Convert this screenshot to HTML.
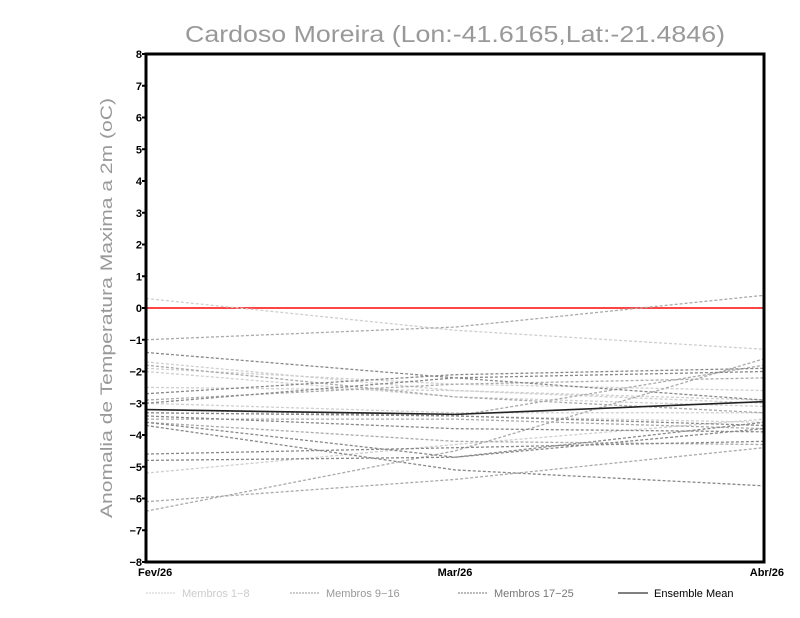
<!DOCTYPE html>
<html><head><meta charset="utf-8"><style>
body{margin:0;background:#fff;}
svg{display:block;font-family:"Liberation Sans",sans-serif;}
</style></head><body>
<svg id="chart" width="800" height="618" viewBox="0 0 800 618">
<text x="455" y="42" text-anchor="middle" font-size="23" fill="#999" textLength="540" lengthAdjust="spacingAndGlyphs">Cardoso Moreira (Lon:-41.6165,Lat:-21.4846)</text>
<text transform="translate(112,308) rotate(-90)" text-anchor="middle" font-size="17" fill="#999" textLength="420" lengthAdjust="spacingAndGlyphs">Anomalia de Temperatura Maxima a 2m (oC)</text>
<g id="marks"></g>
<g id="axes"></g>
</svg>
<script>
const categories = ["Fev/26","Mar/26","Abr/26"];
const yTicks = [-8,-7,-6,-5,-4,-3,-2,-1,0,1,2,3,4,5,6,7,8];
const group1 = [[0.3,-0.7,-1.3],[-1.9,-2.4,-2.6],[-2.5,-2.6,-2.9],[-5.2,-4.3,-3.5],[-1.7,-2.6,-3.0],[-2.0,-2.8,-3.1],[-3.3,-3.4,-3.6],[-3.0,-3.3,-3.3]];
const group2 = [[-1.0,-0.6,0.4],[-1.8,-2.8,-3.3],[-3.2,-3.4,-1.8],[-6.4,-4.5,-1.6],[-3.6,-4.2,-4.3],[-2.9,-2.4,-2.2],[-3.5,-3.5,-3.8],[-6.1,-5.4,-4.4]];
const group3 = [[-1.4,-2.2,-2.9],[-2.7,-2.1,-1.9],[-3.0,-2.2,-2.0],[-3.6,-4.7,-3.6],[-4.6,-4.4,-4.2],[-4.8,-4.7,-3.8],[-3.7,-5.1,-5.6],[-3.4,-3.8,-3.9],[-3.3,-3.4,-3.7]];
const ensembleMean = [-3.2,-3.35,-2.95];
const legendLabels = ["Membros 1-8","Membros 9-16","Membros 17-25","Ensemble Mean"];

const NS="http://www.w3.org/2000/svg";
const L=146,R=764,T=54,B=562;
const xs=i=>L+(R-L)*i/(categories.length-1);
const ys=v=>B-(v+8)/16*(B-T);
const marks=document.getElementById('marks'), axes=document.getElementById('axes');
function mk(tag,attrs,parent){const e=document.createElementNS(NS,tag);for(const k in attrs)e.setAttribute(k,attrs[k]);parent.appendChild(e);return e;}
function pts(arr){return arr.map((v,i)=>xs(i)+','+ys(v)).join(' ');}

const z=mk('line',{x1:L,x2:R,y1:ys(0),y2:ys(0),stroke:'#f44',"stroke-width":2},marks);



[[group1,'#cfcfcf','membros-1-8'],[group2,'#aaa','membros-9-16'],[group3,'#888','membros-17-25']].forEach(([g,c,n])=>{
  g.forEach((s,j)=>{
    const p=mk('polyline',{points:pts(s),fill:'none',stroke:c,"stroke-width":1.3,"stroke-dasharray":"3,2"},marks);
    
    
  });
});
const m=mk('polyline',{points:pts(ensembleMean),fill:'none',stroke:'#222',"stroke-width":1.6},marks);



const fr=mk('rect',{x:L,y:T,width:R-L,height:B-T,fill:'none',stroke:'#000',"stroke-width":3},axes);


yTicks.forEach(v=>{
  const tk=mk('line',{x1:L-4,x2:L,y1:ys(v),y2:ys(v),stroke:'#000',"stroke-width":2},axes);
  
  
  const t=mk('text',{x:L-4,y:ys(v)+4,"text-anchor":"end","font-size":11,"font-weight":"bold",fill:'#000'},axes);
  t.textContent=(v<0?'\u2212':'')+Math.abs(v);
  
  
});
categories.forEach((c,i)=>{
  const a=i===0?'start':(i===categories.length-1?'end':'middle');
  const dx=i===0?-8:(i===categories.length-1?20:0);
  const t=mk('text',{x:xs(i)+dx,y:B+14,"text-anchor":a,"font-size":11,"font-weight":"bold",fill:'#000'},axes);
  t.textContent=c;
  
  
});
const legX=[146,290,458,618], legC=['#ccc','#999','#777','#000'];
legendLabels.forEach((lab,i)=>{
  const g=mk('g',{},axes);
  
  
  mk('line',{x1:legX[i],x2:legX[i]+30,y1:593,y2:593,stroke:legC[i],"stroke-width":1,"stroke-dasharray":i<3?"2,1":"none"},g);
  const t=mk('text',{x:legX[i]+36,y:597,"font-size":11,fill:legC[i]},g);
  t.textContent=lab.replace('-','\u2212');
});
</script>
</body></html>
